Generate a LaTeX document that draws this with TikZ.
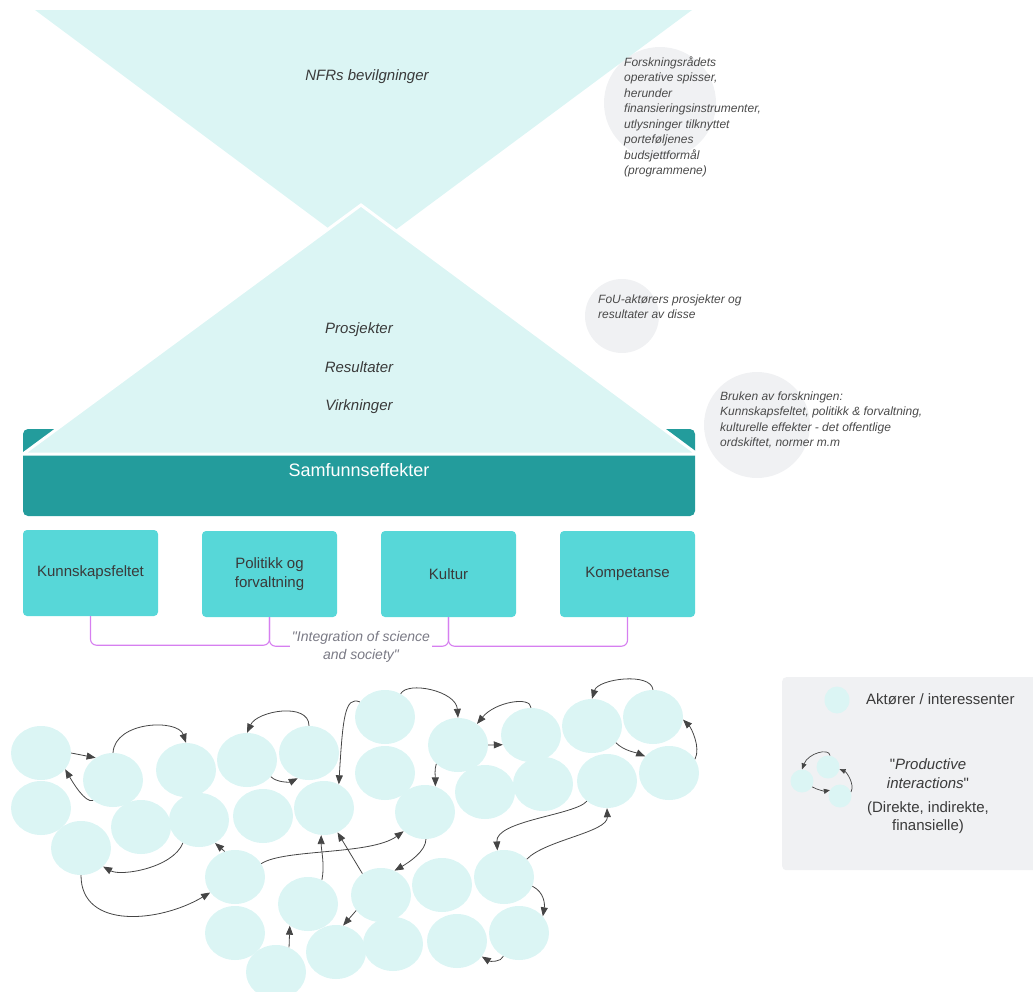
\documentclass[tikz,border=0pt]{standalone}
\usepackage{fontspec}
\setmainfont{Liberation Sans}[Ligatures=TeXOff]
\usetikzlibrary{shapes.geometric,arrows.meta}
\definecolor{pale}{HTML}{DBF5F4}
\definecolor{darkteal}{HTML}{239C9C}
\definecolor{boxc}{HTML}{57D7D8}
\definecolor{grayc}{HTML}{F0F1F3}
\definecolor{txt}{HTML}{3A3A3A}
\definecolor{notec}{HTML}{4A4A4A}
\definecolor{arrowc}{HTML}{454545}
\definecolor{brk}{HTML}{D67FF0}
\definecolor{intc}{HTML}{7A7A85}
\begin{document}
\begin{tikzpicture}[x=1pt,y=-1pt,
  actor/.style={ellipse, fill=pale, minimum width=60pt, minimum height=54pt, inner sep=0pt},
  smallactor/.style={ellipse, fill=pale, minimum width=23pt, minimum height=23pt, inner sep=0pt},
  link/.style={draw=arrowc, line width=0.8pt, -{Triangle[length=9pt,width=7pt]}},
  slink/.style={draw=arrowc, line width=0.7pt, -{Triangle[length=6pt,width=5pt]}},
  cat/.style={fill=boxc, rounded corners=4pt, minimum width=135pt, minimum height=86pt, text=txt, font=\fontsize{15}{19}\selectfont, align=center, inner sep=0pt},
  note/.style={font=\fontsize{12}{15.5}\selectfont\itshape, text=notec, align=left, anchor=base west, inner sep=0pt},
  bubble/.style={circle, fill=grayc, inner sep=0pt},
  headtxt/.style={font=\fontsize{15}{18}\selectfont\itshape, text=txt, anchor=base, inner sep=0pt},
  bracket/.style={draw=brk, line width=1.1pt, rounded corners=6pt}
]
\useasboundingbox (0,0) rectangle (1033,991);

% note bubbles
\node[bubble, minimum size=112pt] (g1) at (660,103) {};
\node[bubble, minimum size=74pt] (g2) at (622,316) {};
\node[bubble, minimum size=106pt] (g3) at (757,425) {};

% upper inverted triangle
\fill[pale] (35,10) -- (692,10) -- (363,254) -- cycle;
\node[headtxt] (nfr) at (367,80) {NFRs bevilgninger};

% society bar
\node[fill=darkteal, rounded corners=5pt, minimum width=672pt, minimum height=87pt, inner sep=0pt] (bar) at (359,472.5) {};
% lower triangle
\filldraw[fill=pale, draw=white, line width=3pt] (361,205) -- (697,454) -- (23,454) -- cycle;
\node[headtxt] (pro) at (359,333) {Prosjekter};
\node[headtxt] (res) at (359,372) {Resultater};
\node[headtxt] (vir) at (359,410) {Virkninger};
\node[font=\fontsize{18}{21}\selectfont, text=white, anchor=base, inner sep=0pt] (sam) at (359,476) {Samfunnseffekter};

% notes (base anchor = baseline of last line)
\node[note] (t1) at (624,174.5) {Forskningsrådets\\operative spisser,\\herunder\\finansieringsinstrumenter,\\utlysninger tilknyttet\\porteføljenes\\budsjettformål\\(programmene)};
\node[note] (t2) at (598,318.5) {FoU-aktørers prosjekter og\\resultater av disse};
\node[note] (t3) at (720,446.5) {Bruken av forskningen:\\Kunnskapsfeltet, politikk \& forvaltning,\\kulturelle effekter - det offentlige\\ordskiftet, normer m.m};

% category boxes
\node[cat] (k1) at (90.5,573) {Kunnskapsfeltet};
\node[cat] (k2) at (269.5,574) {Politikk og\\forvaltning};
\node[cat] (k3) at (448.5,574) {Kultur};
\node[cat] (k4) at (627.5,574) {Kompetanse};

% brackets
\draw[bracket] (k1.south) -- ++(0,29) -| (k2.south);
\draw[bracket] (k2.south) -- ++(0,29) -| (k3.south);
\draw[bracket] (k3.south) -- ++(0,29) -| (k4.south);
\node[fill=white, inner sep=1.5pt, font=\fontsize{14}{18}\selectfont\itshape, text=intc, align=center] (integ) at (361,647) {"Integration of science\\and society"};

% actors
\node[actor] (a1) at (41,753) {};
\node[actor] (a2) at (41,808) {};
\node[actor] (a3) at (81,848) {};
\node[actor] (a4) at (113,780) {};
\node[actor] (a5) at (141,827) {};
\node[actor] (a6) at (186,770) {};
\node[actor] (a7) at (199,820) {};
\node[actor] (a8) at (247,760) {};
\node[actor] (a9) at (263,816) {};
\node[actor] (a10) at (309,753) {};
\node[actor] (a11) at (324,808) {};
\node[actor] (a12) at (235,877) {};
\node[actor] (a13) at (235,933) {};
\node[actor] (a14) at (308,904) {};
\node[actor] (a15) at (276,972) {};
\node[actor] (a16) at (336,952) {};
\node[actor] (b1) at (385,717) {};
\node[actor] (b2) at (385,773) {};
\node[actor] (b4) at (425,812) {};
\node[actor] (b5) at (458,745) {};
\node[actor] (b6) at (485,792) {};
\node[actor] (b7) at (531,735) {};
\node[actor] (b8) at (543,784) {};
\node[actor] (b9) at (592,726) {};
\node[actor] (b10) at (653,717) {};
\node[actor] (b11) at (607,781) {};
\node[actor] (b12) at (669,773) {};
\node[actor] (b13) at (381,895) {};
\node[actor] (b14) at (442,885) {};
\node[actor] (b15) at (504,877) {};
\node[actor] (b16) at (519,933) {};
\node[actor] (b17) at (457,941) {};
\node[actor] (b18) at (393,944) {};

% interactions
\draw[link] (a1.east) -- (a4.128);
\draw[link] (a4.226) .. controls +(-8,3) and +(7,12) .. (a1.326);
\draw[link] (a4.north) .. controls +(2,-32) and +(-8,-24) .. (a6.north);
\draw[link] (a10.north) .. controls +(0,-24) and +(10,-22) .. (a8.north);
\draw[link] (a8.325) .. controls +(6,6) and +(-8,4) .. (a10.246);
\draw[link] (b1.149) .. controls +(-15,-6) and +(4,-67) .. (a11.58);
\draw[link] (a7.235) .. controls +(-10,25) and +(18,10) .. (a3.320);
\draw[link] (a3.south) .. controls +(0,55) and +(-50,30) .. (a12.212);
\draw[link] (a12.112) -- (a7.305);
\draw[link] (a12.27) .. controls +(23,-15) and +(-33,24) .. (b4.222);
\draw[link] (a14.60) .. controls +(3,-15) and +(0,15) .. (a11.264);
\draw[link] (b13.131) -- (a11.299);
\draw[link] (b13.212) -- (a16.75);
\draw[link] (a15.62) -- (a14.230);
\draw[link] (b1.56) .. controls +(7,-13) and +(-2,-27) .. (b5.north);
\draw[link] (b7.north) .. controls +(0,-12) and +(18,-22) .. (b5.48);
\draw[link] (b5.east) -- (b7.199);
\draw[link] (b5.221) .. controls +(-2,6) and +(0,-10) .. (b4.68);
\draw[link] (b4.272) .. controls +(0,12) and +(14,-8) .. (b13.61);
\draw[link] (b10.north) .. controls +(-2,-18) and +(6,-20) .. (b9.north);
\draw[link] (b9.325) .. controls +(8,8) and +(-10,-4) .. (b12.145);
\draw[link] (b12.28) .. controls +(6,-12) and +(8,8) .. (b10.355);
\draw[link] (b11.225) .. controls +(-12,14) and +(-2,-30) .. (b15.104);
\draw[link] (b15.38) .. controls +(18,-19) and +(1,24) .. (b11.south);
\draw[link] (b15.342) .. controls +(12,6) and +(2,-12) .. (b16.35);
\draw[link] (b16.236) .. controls +(-2,6) and +(8,5) .. (b17.328);

% legend
\node[fill=grayc, rounded corners=4pt, minimum width=262pt, minimum height=193pt, anchor=north west, inner sep=0pt] (lg) at (782,677) {};
\node[ellipse, fill=pale, minimum width=25pt, minimum height=27pt, inner sep=0pt] (l0) at (837,700) {};
\node[anchor=base west, inner sep=0pt, font=\fontsize{15}{18}\selectfont, text=txt] (lt0) at (866,704) {Aktører / interessenter};
\node[smallactor] (l1) at (802,781) {};
\node[smallactor] (l2) at (828,767) {};
\node[smallactor] (l3) at (840,796) {};
\draw[slink] (l2.80) .. controls +(-1,-8) and +(6,-16) .. (l1.north);
\draw[slink] (l1.330) .. controls +(5,3) and +(-5,1) .. (l3.150);
\draw[slink] (l3.20) .. controls +(4,-8) and +(7,3) .. (l2.350);
\node[anchor=base, inner sep=0pt, font=\fontsize{15}{18.5}\selectfont, text=txt, align=center] (lt1) at (928,788) {"\textit{Productive}\\\textit{interactions}"};
\node[anchor=base, inner sep=0pt, font=\fontsize{15}{18}\selectfont, text=txt, align=center] (lt2) at (928,830) {(Direkte, indirekte,\\finansielle)};
\end{tikzpicture}
\end{document}
